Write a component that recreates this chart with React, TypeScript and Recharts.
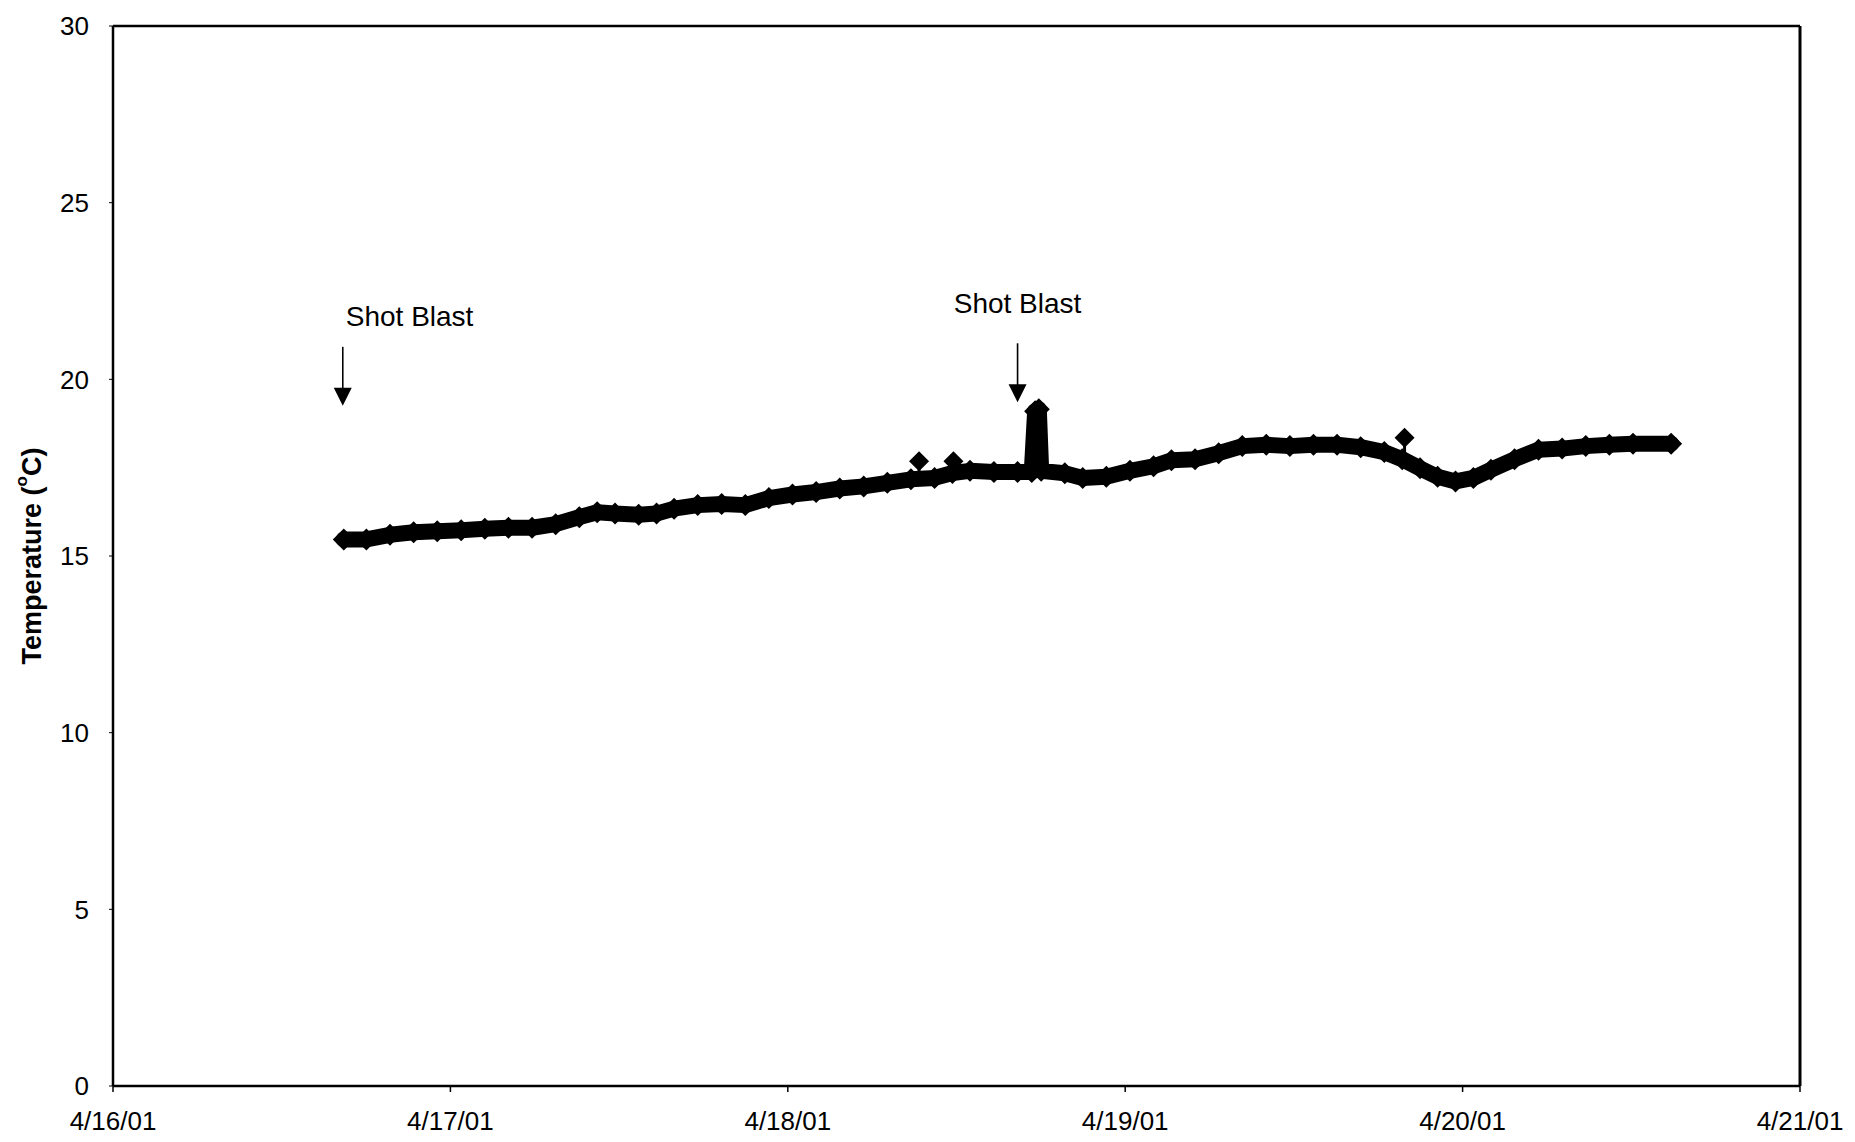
import React from 'react';
import { ComposedChart, Line, XAxis, YAxis, ReferenceDot, ReferenceLine } from 'recharts';

// X axis: days since 4/16/01
const dayTicks = [0, 1, 2, 3, 4, 5];
const dayLabels = ['4/16/01', '4/17/01', '4/18/01', '4/19/01', '4/20/01', '4/21/01'];
const tempTicks = [0, 5, 10, 15, 20, 25, 30];

// Main temperature record
const readingDays = [
  0.684, 0.751, 0.821, 0.891, 0.961, 1.032, 1.102, 1.172, 1.242, 1.312,
  1.382, 1.435, 1.488, 1.558, 1.611, 1.663, 1.733, 1.804, 1.874, 1.944,
  2.014, 2.084, 2.154, 2.225, 2.295, 2.365, 2.435, 2.488, 2.540, 2.611,
  2.681, 2.723, 2.733, 2.744, 2.751, 2.821, 2.874, 2.944, 3.014, 3.084,
  3.137, 3.207, 3.277, 3.347, 3.418, 3.488, 3.558, 3.628, 3.698, 3.768,
  3.821, 3.874, 3.926, 3.979, 4.032, 4.084, 4.154, 4.225, 4.295, 4.365,
  4.435, 4.505, 4.618,
];
const readingTemps = [
  15.47, 15.47, 15.60, 15.67, 15.70, 15.73, 15.77, 15.80, 15.80, 15.90,
  16.10, 16.24, 16.20, 16.17, 16.20, 16.34, 16.44, 16.47, 16.44, 16.64,
  16.74, 16.81, 16.91, 16.97, 17.07, 17.17, 17.21, 17.35, 17.41, 17.38,
  17.38, 17.38, 19.10, 19.15, 17.41, 17.34, 17.21, 17.24, 17.41, 17.54,
  17.71, 17.74, 17.91, 18.11, 18.15, 18.11, 18.15, 18.15, 18.08, 17.94,
  17.74, 17.48, 17.24, 17.11, 17.21, 17.44, 17.74, 18.01, 18.04, 18.11,
  18.15, 18.18, 18.18,
];

// Isolated outlier readings
const spikeDays = [2.389, 2.491, 3.828];
const spikeBaseTemps = [17.17, 17.30, 17.74];
const spikeTopTemps = [17.68, 17.68, 18.35];

// "Shot Blast" annotations
const annotationDays = [0.681, 2.681];
const annotationTipTemps = [19.25, 19.35];
const annotationLabels = ['Shot Blast', 'Shot Blast'];
const annotationAlign = ['start', 'middle'];
const annotationTextRise = [89, 99];

const FONT = '"Liberation Sans", Arial, sans-serif';

const mainData = readingDays.map((t, i) => ({ t, v: readingTemps[i] }));

const diamond = (cx: number, cy: number, r: number, key: string) => (
  <path
    key={key}
    d={`M${cx},${cy - r} L${cx + r},${cy} L${cx},${cy + r} L${cx - r},${cy} Z`}
    fill="#000"
    stroke="none"
  />
);

const MainDot = (props: any) => {
  const { cx, cy, index } = props;
  if (cx == null || cy == null) return <g key={`m-${index}`} />;
  return diamond(cx, cy, 11, `m-${index}`);
};

const SpikeDot = (props: any) => {
  const { cx, cy, index } = props;
  if (index !== 1 || cx == null || cy == null) return <g key={`s-${index}`} />;
  return diamond(cx, cy, 10, `s-${index}`);
};

const makeArrow = (i: number) => (props: any) => {
  const { cx, cy } = props;
  const headH = 18;
  const headW = 9;
  const shaft = 59;
  const align = annotationAlign[i];
  const tx = align === 'start' ? cx + 3 : cx;
  return (
    <g>
      <line x1={cx} y1={cy - shaft} x2={cx} y2={cy - headH + 1} stroke="#000" strokeWidth={1.6} />
      <path d={`M${cx - headW},${cy - headH} L${cx + headW},${cy - headH} L${cx},${cy} Z`} fill="#000" />
      <text
        x={tx}
        y={cy - annotationTextRise[i]}
        textAnchor={align as any}
        dominantBaseline="central"
        fontFamily={FONT}
        fontSize={28}
        fill="#000"
      >
        {annotationLabels[i]}
      </text>
    </g>
  );
};

const YLabel = (props: any) => {
  const vb = props.viewBox || { x: 12, y: 18, width: 93, height: 1060 };
  const cx = vb.x + 12;
  const cy = vb.y + vb.height / 2;
  return (
    <text
      x={cx}
      y={cy}
      transform={`rotate(-90, ${cx}, ${cy})`}
      textAnchor="middle"
      dominantBaseline="central"
      fontFamily={FONT}
      fontWeight="bold"
      fontSize={27}
      fill="#000"
    >
      <tspan>Temperature (</tspan>
      <tspan fontSize={17} dy={-11}>o</tspan>
      <tspan dy={11}>C)</tspan>
    </text>
  );
};

export default function App() {
  return (
    <div style={{ width: 1840, height: 1134, background: '#fff' }}>
      <ComposedChart
        width={1840}
        height={1134}
        margin={{ top: 18, right: 48, bottom: 16, left: 12 }}
      >
        <XAxis
          type="number"
          dataKey="t"
          domain={[0, 5]}
          ticks={dayTicks}
          interval={0}
          allowDataOverflow
          tickFormatter={(v: number) => dayLabels[dayTicks.indexOf(v)] ?? ''}
          height={40}
          axisLine={{ stroke: '#000', strokeWidth: 2.5 }}
          tickLine={{ stroke: '#000', strokeWidth: 1.5 }}
          tickSize={6}
          tickMargin={20}
          tick={{ fill: '#000', fontSize: 26, fontFamily: FONT }}
        />
        <YAxis
          type="number"
          domain={[0, 30]}
          ticks={tempTicks}
          interval={0}
          allowDataOverflow
          width={93}
          axisLine={{ stroke: '#000', strokeWidth: 2.5 }}
          tickLine={{ stroke: '#000', strokeWidth: 1 }}
          tickSize={4}
          tickMargin={20}
          tick={{ fill: '#000', fontSize: 26, fontFamily: FONT }}
          label={<YLabel />}
        />
        <ReferenceLine y={30} stroke="#000" strokeWidth={2.5} ifOverflow="extendDomain" />
        <ReferenceLine x={5} stroke="#000" strokeWidth={3} ifOverflow="extendDomain" />
        {spikeDays.map((t, i) => (
          <Line
            key={`spike-${i}`}
            data={[
              { t, v: spikeBaseTemps[i] },
              { t, v: spikeTopTemps[i] },
            ]}
            dataKey="v"
            type="linear"
            stroke="#000"
            strokeWidth={3}
            dot={SpikeDot}
            activeDot={false}
            legendType="none"
            isAnimationActive={false}
          />
        ))}
        <Line
          data={mainData}
          dataKey="v"
          type="linear"
          stroke="#000"
          strokeWidth={16}
          strokeLinejoin="round"
          strokeLinecap="round"
          dot={MainDot}
          activeDot={false}
          isAnimationActive={false}
        />
        {annotationDays.map((t, i) => (
          <ReferenceDot
            key={`ann-${i}`}
            x={t}
            y={annotationTipTemps[i]}
            r={0}
            shape={makeArrow(i)}
          />
        ))}
      </ComposedChart>
    </div>
  );
}
